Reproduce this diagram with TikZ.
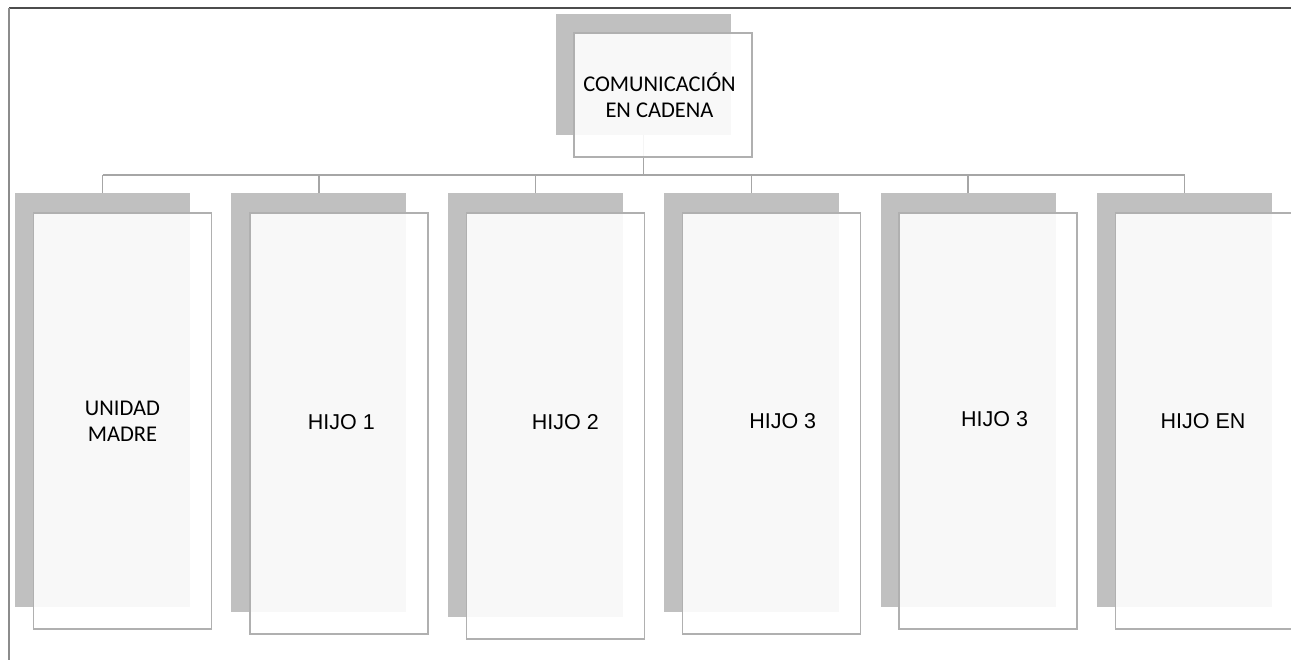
\documentclass[tikz,border=0pt]{standalone}
\usepackage{fontspec}
\newfontfamily\carlito{Carlito}
\newfontfamily\arialike{Liberation Sans}
\usetikzlibrary{positioning}
\definecolor{shadowgray}{HTML}{C0C0C0}
\definecolor{linegray}{HTML}{A6A6A6}
\definecolor{edgegray}{HTML}{B0B0B0}
\tikzset{
  shadowbox/.style={fill=shadowgray, draw=none, minimum width=175pt,
    inner sep=0pt, outer sep=0pt, anchor=north west},
  framebox/.style={draw=edgegray, line width=1.5pt, fill=white, fill opacity=0.89,
    text opacity=1, minimum width=178pt, inner sep=0pt, outer sep=0pt, align=center},
  link/.style={draw=linegray, line width=1.5pt},
}
\begin{document}
\begin{tikzpicture}[x=1pt,y=-1pt]
\useasboundingbox (0,0) rectangle (1291,659);
\draw[line width=1.5pt, black!70] (9,8) -- (1292,8);
\draw[line width=1.5pt, black!45] (9,8) -- (9,660);

\coordinate (bus) at (643,175);

% top box
\node[shadowbox, minimum height=121pt] (s0) at (556,14) {};
\draw[link] (s0.south) -- (s0.south |- bus);
\node[framebox, minimum height=124pt, font=\carlito\fontsize{22.5}{26}\selectfont,
  below right=19pt and 18pt of s0.north west] (f0) {\hspace*{-7pt}COMUNICACIÓN\\\hspace*{-7pt}EN CADENA};

% first child
\node[shadowbox, minimum height=414pt] (s1) at (15,193) {};
\draw[link] (s1.north) -- (s1.north |- bus);
\node[framebox, minimum height=416pt, font=\carlito\fontsize{22.5}{26}\selectfont,
  below right=20pt and 18.5pt of s1.north west] (f1) {UNIDAD\\MADRE};

% other children
\foreach \i/\x/\bot/\pad/\up/\label in {2/231.4/612/5/3.5/HIJO 1,
    3/447.8/617/20/8.5/HIJO 2, 4/664.2/612/22/6/HIJO 3,
    5/880.6/607/13/4/HIJO 3, 6/1097/607/-3/0/HIJO EN} {
  \pgfmathsetmacro\hs{\bot-193}
  \pgfmathsetmacro\hf{\bot-191}
  \node[shadowbox, minimum height=\hs pt] (s\i) at (\x,193) {};
  \draw[link] (s\i.north) -- (s\i.north |- bus);
  \node[framebox, minimum height=\hf pt, font=\arialike\fontsize{21.5}{26}\selectfont,
    below right=20pt and 18.5pt of s\i.north west] (f\i)
    {\hspace*{\pad pt}\raisebox{\up pt}{\label}};
}

\draw[link] (s1.north |- bus) -- (s6.north |- bus);
\end{tikzpicture}
\end{document}
